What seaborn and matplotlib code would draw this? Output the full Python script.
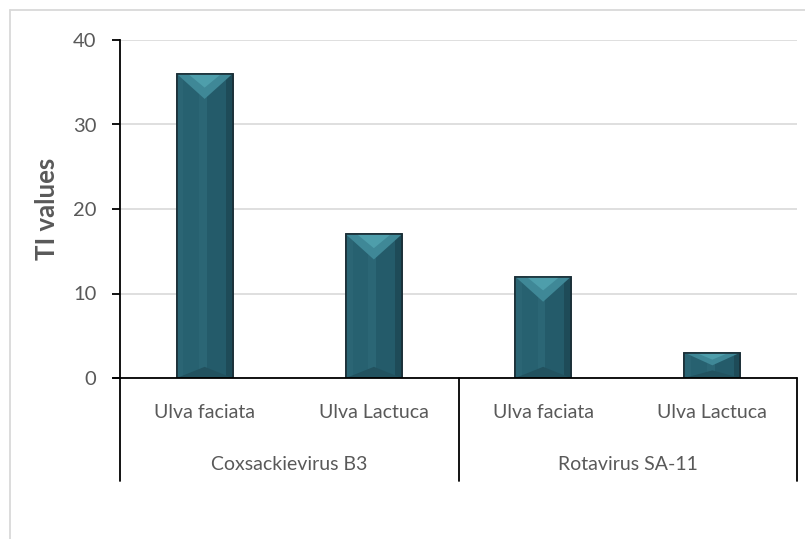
import matplotlib
matplotlib.use("Agg")
import matplotlib.pyplot as plt
import seaborn as sns
import pandas as pd
from matplotlib.patches import Polygon, Rectangle
from matplotlib.lines import Line2D

groups = ["Coxsackievirus B3", "Coxsackievirus B3", "Rotavirus SA-11", "Rotavirus SA-11"]
species = ["Ulva faciata", "Ulva Lactuca", "Ulva faciata", "Ulva Lactuca"]
ti_values = [36, 17, 12, 3]
y_ticks = [0, 10, 20, 30, 40]
y_label = "TI values"

df = pd.DataFrame({"group": groups, "species": species, "value": ti_values})
df["key"] = df["group"] + " | " + df["species"]

sns.set_theme(style="white")
plt.rcParams["font.family"] = ["Lato", "DejaVu Sans"]

W, H = 805, 539
fig = plt.figure(figsize=(W / 100, H / 100), dpi=100)
ax = fig.add_axes([120 / W, 1 - 378 / H, (797 - 120) / W, (378 - 40) / H])

sns.barplot(data=df, x="key", y="value", order=list(df["key"]), color="#276170",
            width=0.33, edgecolor="#1a2e36", linewidth=1.2, saturation=1, ax=ax, zorder=3)

ax.set_ylim(0, 40)
ax.set_xlim(-0.5, len(df) - 0.5)
ax.set_yticks(y_ticks)
ax.set_yticklabels([str(t) for t in y_ticks], color="#595959", fontsize=14.5)
ax.set_xticks([])
ax.set_xlabel("")
ax.set_ylabel(y_label, color="#595959", fontsize=18.5, fontweight="bold", va="center")
ax.yaxis.set_label_coords((47 - 120) / 677, 0.5)
ax.yaxis.grid(True, color="#d9d9d9", linewidth=1.2, zorder=0)
ax.set_axisbelow(True)
for s in ["top", "right", "bottom"]:
    ax.spines[s].set_visible(False)
ax.spines["left"].set_color("black")
ax.spines["left"].set_linewidth(1.3)
ax.tick_params(axis="y", direction="out", length=6, width=1.3, color="black", left=True, pad=11)

fig.canvas.draw()
# Bevel shading on bars computed from the drawn patches
px_per_unit = ax.bbox.height / 40.0
px_per_x = ax.bbox.width / len(df)
for p in ax.patches:
    x0, y0 = p.get_x(), p.get_y()
    w, h = p.get_width(), p.get_height()
    wpx = w * px_per_x
    hpx = h * px_per_unit
    strip = w * 0.12
    ax.add_patch(Rectangle((x0, y0), strip, h, color="#2b6574", lw=0, zorder=3.1))
    ax.add_patch(Rectangle((x0 + w * 0.40, y0), w * 0.14, h, color="#2b6675", lw=0, zorder=3.1))
    ax.add_patch(Rectangle((x0 + w * 0.54, y0), w * 0.34, h, color="#245b6a", lw=0, zorder=3.1))
    ax.add_patch(Rectangle((x0 + w - strip, y0), strip, h, color="#1e4b58", lw=0, zorder=3.1))
    depth_px = min(0.45 * wpx, 0.5 * hpx)
    d = depth_px / px_per_unit
    ax.add_patch(Polygon([(x0, y0 + h), (x0 + w, y0 + h), (x0 + w / 2, y0 + h - d)],
                         closed=True, color="#3f8897", lw=0, zorder=3.2))
    d2 = d * 0.55
    ax.add_patch(Polygon([(x0 + w * 0.2, y0 + h), (x0 + w * 0.8, y0 + h), (x0 + w / 2, y0 + h - d2)],
                         closed=True, color="#4e9eab", lw=0, zorder=3.25))
    db = min(0.2 * wpx, 0.3 * hpx) / px_per_unit
    ax.add_patch(Polygon([(x0, y0), (x0 + w, y0), (x0 + w / 2, y0 + db)],
                         closed=True, color="#22525f", lw=0, zorder=3.2))
    ax.add_patch(Rectangle((x0, y0), w, h, fill=False, ec="#1a2e36", lw=1.2, zorder=3.3))

# Multi-level category axis
tr = ax.get_xaxis_transform()
ax.add_line(Line2D([-0.5 - 7 / px_per_x, len(df) - 0.5], [0, 0], transform=ax.transData,
                   color="black", lw=1.3, clip_on=False, zorder=5))
bottom = -(481 - 378) / ax.bbox.height
for xs in [-0.5, 1.5, 3.5]:
    ax.add_line(Line2D([xs, xs], [0, bottom], transform=tr, color="black", lw=1.3, clip_on=False))
for i, sp in enumerate(species):
    ax.text(i, -(413 - 378) / ax.bbox.height, sp, transform=tr, ha="center", va="center",
            color="#595959", fontsize=14)
uniq = list(dict.fromkeys(groups))
for g in uniq:
    idx = [i for i, gg in enumerate(groups) if gg == g]
    ax.text(sum(idx) / len(idx), -(465 - 378) / ax.bbox.height, g, transform=tr,
            ha="center", va="center", color="#595959", fontsize=14)

# Chart area border (top and left visible)
fig.add_artist(Line2D([10 / W, 1], [1 - 10 / H, 1 - 10 / H], color="#d9d9d9", lw=1.3))
fig.add_artist(Line2D([10 / W, 10 / W], [0, 1 - 10 / H], color="#d9d9d9", lw=1.3))

fig.savefig("out.png", dpi=100)
